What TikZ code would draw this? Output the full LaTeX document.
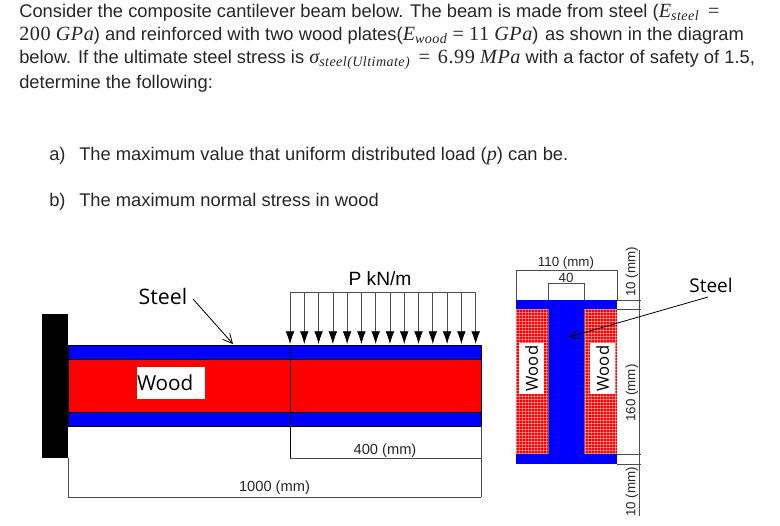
\documentclass[tikz,border=0pt]{standalone}
\usepackage{amsmath}
\usepackage{fontspec}
\setmainfont{Liberation Sans}
\newfontfamily\labelfont{Open Sans}
\newfontfamily\mathserif[Scale=1.1,LetterSpace=3]{Liberation Serif}
\newcommand{\mth}[1]{\text{\mathserif\itshape #1}}
\newcommand{\mrm}[1]{\text{\mathserif #1}}
\usetikzlibrary{arrows.meta}
\tikzset{
  bodytext/.style={anchor=base west, inner sep=0pt, font=\fontsize{13.75pt}{16pt}\selectfont, text=black!85},
  dimtext/.style={inner sep=0pt, font=\fontsize{11pt}{13pt}\selectfont, text=black!85},
  sectext/.style={inner sep=0pt, font=\fontsize{10pt}{12pt}\selectfont, text=black!85},
  parttext/.style={inner sep=0pt, font=\labelfont\fontsize{14.2pt}{17pt}\selectfont},
  woodbox/.style={fill=white, inner sep=0pt, font=\labelfont\fontsize{15.5pt}{18pt}\selectfont},
  dimline/.style={black!70, line width=0.6pt},
  pointer/.style={-{Straight Barb[length=7pt,width=7pt]}, line width=0.6pt},
  loadarrow/.style={-{Latex[length=9.5pt,width=6.5pt,black]}, black!70, line width=0.5pt}
}
\begin{document}
\begin{tikzpicture}[x=0.75pt,y=-0.75pt]
        \useasboundingbox[fill=white] (0,0) rectangle (780,525);
        % problem text
        \node[bodytext] (line1) at (19,17) {Consider the composite cantilever beam below. The beam is made from steel ($\mth{E}_{\mth{steel}}\hspace{6.5pt}\mrm{=}$};
        \node[bodytext] (line2) at (19,40) {$\mrm{200}\ \mth{GPa}$) and reinforced with two wood plates($\mth{E}_{\mth{wood}}\ \mrm{=}\ \mrm{11}\ \mth{GPa}$)\hspace{5pt}as shown in the diagram};
        \node[bodytext] (line3) at (19,63) {below. If the ultimate steel stress is $\mth{σ}_{\mth{steel(Ultimate)}}\hspace{6pt}\mrm{=}\hspace{6pt}\mrm{6.99}\ \mth{MPa}$ with a factor of safety of 1.5,};
        \node[bodytext] (line4) at (19,88) {determine the following:};
        \node[bodytext] (parta) at (49,160) {a)};
        \node[bodytext] (texta) at (79,160) {The maximum value that uniform distributed load ($\mth{p}$) can be.};
        \node[bodytext] (partb) at (49,206) {b)};
        \node[bodytext] (textb) at (79,206) {The maximum normal stress in wood};
        % side view
        \fill[black] (42,314) rectangle (68,458);
        \draw[fill=blue, line width=0.5pt] (68,345) rectangle (481,359.5);
        \draw[fill=red, line width=0.5pt] (68,359.5) rectangle (481,412);
        \draw[fill=blue, line width=0.5pt] (68,412) rectangle (481,426);
        \draw[line width=0.5pt] (290,345) -- (290,458);
        \node[woodbox, minimum width=51pt, minimum height=24pt, text width=51pt] (woodside) at (171,383) {Wood};
        % load
        \node[inner sep=0pt, font=\fontsize{14.4pt}{17pt}\selectfont] (loadlabel) at (380,279) {P kN/m};
        \draw[black!70, line width=0.5pt] (290,292) -- (475.7,292);
        \foreach \i in {0,...,13}{
            \coordinate (load\i) at ({290+14.28*\i},292);
            \coordinate (tip\i) at ({290+14.28*\i},344);
            \draw[loadarrow] (load\i) -- (tip\i);
        }
        % side pointer
        \node[parttext, font=\labelfont\fontsize{16pt}{19pt}\selectfont] (steelside) at (163,296) {Steel};
        \coordinate (steelsidetip) at (233,344);
        \draw[pointer] (193,299) -- (steelsidetip);
        % side dimensions
        \draw[dimline] (290,458) -- (481,458);
        \draw[dimline] (481,426) -- (481,497);
        \draw[dimline] (68,458) -- (68,497) -- (481,497);
        \node[dimtext] (dim400) at (385,451) {400 (mm)};
        \node[dimtext] (dim1000) at (274.5,488) {1000 (mm)};
        % section
        \fill[red] (516,309) rectangle (617,454);
        \begin{scope}
            \clip (516,309) rectangle (617,454);
            \foreach \k in {0,...,34}{
                \draw[white, opacity=0.4, line width=0.3pt] ({516+3*\k},309) -- ({516+3*\k},454);
            }
            \foreach \k in {0,...,48}{
                \draw[white, opacity=0.4, line width=0.3pt] (516,{309+3*\k}) -- (617,{309+3*\k});
            }
        \end{scope}
        \fill[blue] (516,300) rectangle (617,309);
        \fill[blue] (516,454) rectangle (617,464);
        \fill[blue] (548,300) rectangle (584,454);
        \draw[black!60, line width=0.4pt] (548,309) -- (548,454) (584,309) -- (584,454);
        \node[woodbox, rotate=90, minimum width=38pt, minimum height=19pt, font=\labelfont\fontsize{12.5pt}{15pt}\selectfont] (woodleft) at (531.5,368.5) {Wood};
        \node[woodbox, rotate=90, minimum width=38pt, minimum height=19pt, font=\labelfont\fontsize{12.5pt}{15pt}\selectfont] (woodright) at (602.5,368.5) {Wood};
        % section dimensions
        \draw[dimline] (516,300) -- (516,270) -- (617,270) -- (617,300);
        \draw[dimline] (548,300) -- (548,283) -- (584,283) -- (584,300);
        \node[sectext] (dim110) at (566,263) {110 (mm)};
        \node[sectext] (dim40) at (566,278) {40};
        \draw[dimline] (639,250) -- (639,516);
        \draw[dimline] (617,300) -- (641,300);
        \draw[dimline] (617,309) -- (641,309);
        \draw[dimline] (617,454) -- (641,454);
        \draw[dimline] (617,464) -- (641,464);
        \node[sectext, rotate=90] (dimtop) at (632,272) {10 (mm)};
        \node[sectext, rotate=90] (dimweb) at (632,393) {160 (mm)};
        \node[sectext, rotate=90] (dimbottom) at (632,492) {10 (mm)};
        % section pointer
        \node[parttext] (steelsection) at (711,285) {Steel};
        \coordinate (steelsectiontip) at (569,337);
        \draw[pointer] (708,297) -- (steelsectiontip);
    \end{tikzpicture}
\end{document}
